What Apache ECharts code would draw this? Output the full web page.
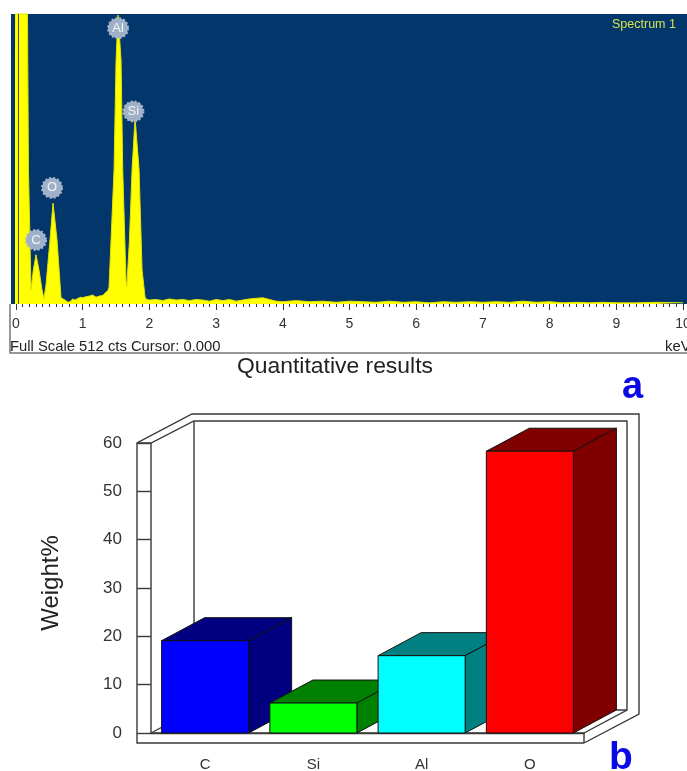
<!DOCTYPE html>
<html><head><meta charset="utf-8">
<style>html,body{margin:0;padding:0;background:#fff}#c{width:687px;height:771px}</style>
<script src="https://cdn.jsdelivr.net/npm/echarts@6/dist/echarts.min.js"></script>
</head><body><div id="c"></div>
<script>
// Spectrum (panel a): energy in keV, counts
const spectrumKeV = [-0.08,-0.075,-0.045,-0.015,0.172,0.187,0.225,0.26,0.3,0.345,0.39,0.42,0.45,0.51,0.555,0.615,0.675,0.735,0.78,0.81,0.85,0.885,0.93,0.97,1.0,1.05,1.1,1.15,1.2,1.25,1.3,1.34,1.38,1.395,1.47,1.5,1.53,1.575,1.6,1.65,1.66,1.7,1.74,1.785,1.845,1.89,1.935,1.96,2.0,2.1,2.2,2.3,2.4,2.5,2.6,2.7,2.8,2.9,3.0,3.1,3.2,3.3,3.4,3.5,3.6,3.7,3.8,3.9,4.0,4.2,4.4,4.6,4.8,5.0,5.2,5.4,5.6,5.8,6.0,6.2,6.4,6.6,6.8,7.0,7.2,7.4,7.6,7.8,8.0,8.2,8.4,8.6,8.8,9.0,9.3,9.6,10.0];
const spectrumCts = [0,25,237,512,512,237,25,60,87,60,25,9,34,113,178,113,11,7,3,4,9,7,10,12,11,13,14,16,12,14,15,20,24,30,237,430,510,430,237,40,30,110,237,328,237,60,12,8,7,8,6,9,7,8,6,8,7,5,8,6,8,5,7,9,10,11,8,5,4,6,4,5,3,5,4,3,5,3,4,2,4,3,4,3,4,3,5,3,4,2,3,2,3,2,2,3,2];
const peakNames = ['Al','Si','O','C'];
const peakKeV = [1.53,1.76,0.54,0.3];
const peakLabelCts = [487,340,205,113];
const spectrumTicks = [0,1,2,3,4,5,6,7,8,9,10];

// Quantitative results (panel b)
const elements = ['C','Si','Al','O'];
const weightPct = [19.1,6.2,16,58.3];
const weightTicks = [0,10,20,30,40,50,60];

const frontColors = ['#0000ff','#00ff00','#00ffff','#ff0000'];
const sideColors = ['#000080','#008000','#008080','#800000'];
const DX = 43, DY = 23;
const lineStyle = {stroke:'#3a3a3a',fill:'none',lineWidth:1.4};

function poly(points, fill){
  return {type:'polygon',shape:{points},style:{fill,stroke:'#111',lineWidth:1}};
}
function renderBar(params, api){
  const i = api.value(0);
  const base = api.coord([i,0]), top = api.coord([i,api.value(1)]);
  const w = api.size([1,0])[0]*0.804;
  const l = base[0]-w/2, r = base[0]+w/2, b = base[1], t = top[1];
  return {type:'group',children:[
    poly([[l,t],[l+DX,t-DY],[r+DX,t-DY],[r,t]], sideColors[i]),
    poly([[r,t],[r+DX,t-DY],[r+DX,b-DY],[r,b]], sideColors[i]),
    {type:'rect',shape:{x:l,y:t,width:r-l,height:b-t},style:{fill:frontColors[i],stroke:'#111',lineWidth:1}}
  ]};
}
function line(points){return {type:'polyline',shape:{points},style:lineStyle};}
function renderFrame(params, api){
  const c = params.coordSys;
  const L=c.x,R=c.x+c.width,T=c.y,B=c.y+c.height,W=14,H=10,OX=55,OY=29;
  return {type:'group',silent:true,children:[
    line([[R,B+H],[L-W,B+H],[L-W,T],[L-W+OX,T-OY],[R+OX,T-OY],[R+OX,B+H-OY],[R,B+H]]),
    line([[L-W,T],[L,T],[L+DX,T-DY+1],[R+DX,T-DY+1],[R+DX,B-DY],[R,B]]),
    line([[L,T],[L,B],[R,B],[R,B+H]]),
    line([[L,B],[L+DX,B-DY]]),
    line([[L+DX,T-DY+1],[L+DX,B-DY],[R+DX,B-DY]])
  ]};
}
const sans = '"Liberation Sans",Arial,sans-serif';
const chart = echarts.init(document.getElementById('c'),null,{renderer:'canvas'});
chart.setOption({
  animation:false,
  backgroundColor:'#fff',
  textStyle:{fontFamily:sans},
  title:{text:'Quantitative results',left:232,top:350,textStyle:{fontFamily:sans,fontSize:22.9,fontWeight:'normal',color:'#222'}},
  grid:[
    {left:16,top:14,width:667,height:290,outerBoundsMode:'none'},
    {left:151,top:443,width:433,height:290,outerBoundsMode:'none'}
  ],
  xAxis:[
    {gridIndex:0,type:'value',min:0,max:10,interval:1,
     axisLine:{show:false},splitLine:{show:false},
     axisTick:{show:true,length:6,lineStyle:{color:'#333'}},
     minorTick:{show:true,splitNumber:10,length:3,lineStyle:{color:'#333'}},
     axisLabel:{fontSize:14,color:'#333',margin:13,customValues:spectrumTicks,showMaxLabel:true,hideOverlap:false}},
    {gridIndex:1,type:'category',data:elements,offset:10,
     axisLine:{lineStyle:{color:'#3a3a3a',width:1.4}},
     axisTick:{inside:true,length:10,lineStyle:{color:'#3a3a3a',width:1.4}},
     axisLabel:{fontSize:15,color:'#333',margin:14}}
  ],
  yAxis:[
    {gridIndex:0,type:'value',min:0,max:512,show:false},
    {gridIndex:1,type:'value',min:0,max:60,interval:10,name:'Weight%',nameLocation:'middle',nameGap:88,
     nameTextStyle:{fontSize:24,color:'#222',padding:[0,0,0,10]},
     axisLine:{show:false},splitLine:{show:false},
     axisTick:{show:true,length:14,lineStyle:{color:'#3a3a3a',width:1.4}},
     axisLabel:{fontSize:17,color:'#333',margin:29}}
  ],
  graphic:[
    {type:'rect',z:0,shape:{x:11,y:14,width:676,height:290},style:{fill:'#03366b'}},
    {type:'polyline',z:0,shape:{points:[[10,304],[10,353],[687,353]]},style:{stroke:'#777',fill:'none',lineWidth:1.5}},
    {type:'text',z:5,x:10,y:339,style:{text:'Full Scale 512 cts Cursor: 0.000',font:'14.8px '+sans,fill:'#222'}},
    {type:'text',z:5,x:665,y:339,style:{text:'keV',font:'14.8px '+sans,fill:'#222'}},
    {type:'text',z:5,x:612,y:18,style:{text:'Spectrum 1',font:'12.5px '+sans,fill:'#d3e24c'}},
    {type:'text',z:5,x:622,y:369,style:{text:'a',font:'bold 38px '+sans,fill:'#0a0ae6'}},
    {type:'text',z:5,x:609,y:739,style:{text:'b',font:'bold 39px '+sans,fill:'#0a0ae6'}}
  ],
  series:[
    {type:'line',xAxisIndex:0,yAxisIndex:0,clip:false,symbol:'none',z:2,
     data:spectrumKeV.map((k,i)=>[k,spectrumCts[i]]),
     lineStyle:{color:'#e3e300',width:1},areaStyle:{color:'#ffff00',opacity:1},
     markLine:{silent:true,symbol:'none',label:{show:false},
       lineStyle:{color:'#55551a',width:1,type:'solid'},data:[{xAxis:0.04}]}},
    {type:'scatter',xAxisIndex:0,yAxisIndex:0,clip:false,z:4,symbol:'circle',symbolSize:20,
     data:peakNames.map((n,i)=>({name:n,value:[peakKeV[i],peakLabelCts[i]]})),
     itemStyle:{color:'#9fb1c9',borderColor:'#a9b8cc',borderWidth:2,borderType:'dotted',opacity:1},
     label:{show:true,position:'inside',formatter:p=>p.name,color:'#f4f6f8',fontSize:13,fontFamily:sans}},
    {type:'custom',xAxisIndex:1,yAxisIndex:1,z:1,data:[0],renderItem:renderFrame,clip:false,silent:true},
    {type:'custom',xAxisIndex:1,yAxisIndex:1,z:3,clip:false,
     data:weightPct.map((v,i)=>[i,v]),encode:{x:0,y:1},renderItem:renderBar}
  ]
});
</script></body></html>
